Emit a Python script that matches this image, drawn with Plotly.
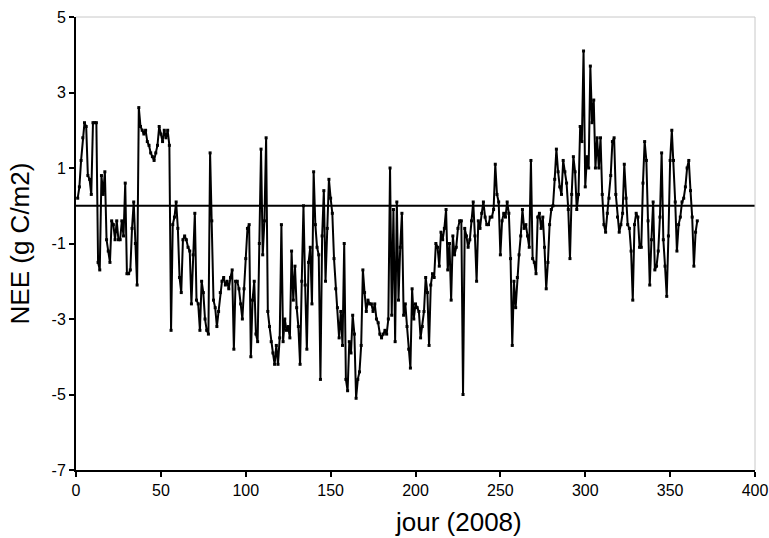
import plotly.graph_objects as go

# NEE daily values (g C/m2), days 1..366 of 2008
nee_jan_feb = [0.2, 0.5, 1.2, 1.8, 2.2, 2.1, 0.8, 0.7, 0.3, 2.2,
               2.2, 2.2, -1.5, -1.7, 0.8, 0.3, 0.9, -0.9, -1.2, -1.5,
               -0.4, -0.5, -0.9, -0.4, -0.9, -0.9, -0.4, -0.8, 0.6, -1.8,
               -1.8, -1.7, -0.6, 0.1, -1.0, -2.1, 2.6, 2.1, 2.0, 1.9,
               2.0, 1.7, 1.6, 1.4, 1.3, 1.2, 1.4, 1.6, 2.1, 1.9,
               1.7, 2.0, 1.8, 2.0, 1.6, -3.3, -0.5, -0.3, 0.1, -0.6,
               -1.9, -2.3]
nee_mar_apr = [-0.9, -0.8, -0.9, -1.1, -1.2, -2.6, -1.3, -0.2, -2.5, -2.6,
               -3.3, -2.0, -2.3, -3.0, -3.3, -3.4, 1.4, -0.4, -2.5, -2.7,
               -3.2, -2.8, -2.3, -2.0, -1.9, -2.1, -2.0, -2.2, -1.9, -1.7,
               -3.8, -2.0, -2.0, -2.2, -2.6, -3.0, -2.2, -1.4, -0.6, -0.5,
               -4.0, -2.5, -2.0, -3.4, -3.6, -1.0, 1.5, -1.3, -0.4, 1.8,
               -2.8, -3.2, -3.6, -3.9, -4.2, -3.7, -4.2, -3.5, -0.5, -3.6]
nee_may_jun = [-3.0, -3.3, -3.2, -3.5, -1.2, -2.5, -1.6, -2.7, -3.2, -4.2,
               -2.0, 0.0, -2.1, -3.8, -1.5, -1.1, -2.6, 0.9, -0.5, -1.1,
               -1.3, -4.6, -0.8, 0.4, -2.0, -0.6, 0.7, 0.2, -0.2, -1.4,
               -2.2, -2.7, -3.5, -2.8, -3.7, -1.0, -4.6, -4.9, -3.6, -3.9,
               -2.9, -3.4, -5.1, -4.6, -4.4, -3.7, -1.7, -2.3, -2.8, -2.5,
               -2.6, -2.6, -2.8, -2.6, -3.0, -3.1, -3.4, -3.5, -3.4, -3.3,
               -3.4]
nee_jul_aug = [-3.0, 1.0, -2.9, -0.1, -3.6, 0.1, -2.5, -1.1, -0.2, -2.9,
               -2.6, -3.2, -3.8, -4.3, -2.2, -3.0, -2.6, -2.7, -2.8, -3.5,
               -3.2, -2.8, -1.9, -2.3, -3.7, -2.1, -1.8, -1.9, -1.0, -1.1,
               -1.6, -0.7, -0.9, -0.6, -0.1, -1.7, -1.0, -2.5, -0.8, -1.3,
               -1.1, -0.6, -0.4, -0.4, -5.0, -0.6, -0.8, -1.1, -0.9, -0.4,
               0.1, -0.8, -2.0, -0.4, -0.6, -0.2, 0.1, -0.3, -0.5, -0.5,
               -0.3]
nee_sep_oct = [-0.3, -0.1, 1.1, 0.3, 0.1, -1.3, -0.4, -0.2, -0.3, 0.1,
               -0.2, -1.4, -3.7, -2.0, -2.7, -1.9, -1.3, -0.8, -0.1, -0.6,
               -0.5, -0.8, -1.1, 1.2, -1.4, -1.5, -1.8, -0.3, -0.2, -0.6,
               -0.3, -1.1, -2.2, -1.5, -0.5, -0.1, 0.0, 0.7, 1.5, 0.9,
               0.5, 0.3, 1.2, 0.9, 0.6, -0.1, -1.4, 0.3, 1.3, 0.9,
               -0.1, 0.3, 2.1, 1.7, 4.1, 0.5, 1.3, 1.0, 3.7, 2.2,
               2.8]
nee_nov_dec = [1.0, 1.8, 1.0, 1.8, 0.3, -0.5, -0.7, -0.2, 0.2, 0.8,
               1.7, 1.8, 0.3, -0.3, -0.7, -0.5, -0.2, 1.1, 0.2, -0.5,
               -0.6, -1.2, -2.5, -0.5, -0.2, -0.3, -1.1, -1.1, 0.6, 1.7,
               1.2, -0.4, -2.1, -0.9, 0.1, -1.7, -1.6, -1.2, -0.3, 1.4,
               -0.9, -1.6, -2.4, -0.8, 1.2, 2.0, 1.2, 0.1, -1.2, -0.5,
               -0.3, 0.1, 0.2, 0.5, 1.0, 1.2, 0.4, -0.3, -1.6, -0.7,
               -0.4]

nee = nee_jan_feb + nee_mar_apr + nee_may_jun + nee_jul_aug + nee_sep_oct + nee_nov_dec
days = list(range(1, len(nee) + 1))

x_ticks = [0, 50, 100, 150, 200, 250, 300, 350, 400]
y_ticks = [-7, -5, -3, -1, 1, 3, 5]
y_tick_labels = ["-7", "-5", "-3", "-1", "1", "3", "5"]

FONT = "Liberation Sans, Arial, Helvetica, sans-serif"

fig = go.Figure()
fig.add_trace(go.Scatter(
    x=days, y=nee, mode="lines+markers",
    line=dict(color="black", width=2),
    marker=dict(color="black", size=3, symbol="square"),
    showlegend=False, hoverinfo="x+y",
))

fig.add_hline(y=0, line=dict(color="black", width=2))

# light grey frame on top and right
fig.add_shape(type="line", xref="paper", yref="paper", x0=0, x1=1, y0=1, y1=1,
              line=dict(color="#c8c8c8", width=1))
fig.add_shape(type="line", xref="paper", yref="paper", x0=1, x1=1, y0=0, y1=1,
              line=dict(color="#c8c8c8", width=1))

fig.add_annotation(text="jour (2008)", xref="paper", yref="paper",
                   x=0.563, y=-0.115, xanchor="center", yanchor="middle",
                   showarrow=False, font=dict(family=FONT, size=26, color="black"))

fig.update_layout(
    width=769, height=538,
    margin=dict(l=76, r=14, t=17, b=68, autoexpand=False),
    paper_bgcolor="white", plot_bgcolor="white",
    font=dict(family=FONT, color="black"),
    xaxis=dict(range=[0, 400], tickvals=x_ticks, ticks="outside", ticklen=5,
               tickwidth=1.5, tickcolor="black", showline=True, linecolor="black",
               linewidth=2, showgrid=False, zeroline=False, automargin=False,
               tickfont=dict(size=16, family=FONT, color="black")),
    yaxis=dict(range=[-7, 5], tickvals=y_ticks, ticktext=y_tick_labels,
               ticks="outside", ticklen=5,
               tickwidth=1.5, tickcolor="black", showline=True, linecolor="black",
               linewidth=2, showgrid=False, zeroline=False, automargin=False,
               tickfont=dict(size=16, family=FONT, color="black"),
               title=dict(text="NEE (g C/m2)", font=dict(size=26, family=FONT, color="black"),
                          standoff=14)),
)

fig.write_html("out.html", config={"displayModeBar": False},
               post_script="document.body.style.margin='0';")
